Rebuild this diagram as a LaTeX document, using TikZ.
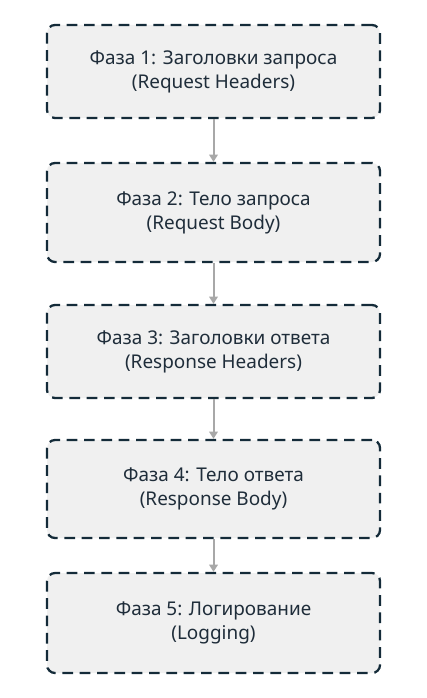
\documentclass[tikz,border=0pt]{standalone}
\usepackage{fontspec}
\setmainfont{Noto Sans}
\usetikzlibrary{arrows.meta}
\definecolor{phasefill}{HTML}{F0F0F0}
\definecolor{phaseline}{HTML}{142B39}
\definecolor{phasetext}{HTML}{1F2D3A}
\definecolor{flowgray}{HTML}{A8A8A8}
\begin{document}
\begin{tikzpicture}[x=0.75pt,y=-0.75pt,
  phase/.style={draw=phaseline, fill=phasefill, line width=1.7pt, dash pattern=on 8pt off 5pt,
    rounded corners=6pt, minimum width=249.75pt, align=center, text=phasetext,
    font=\fontsize{14.2}{18}\selectfont},
  flow/.style={draw=flowgray, line width=1.5pt, -{Triangle[width=6.5pt,length=5.5pt]}}]
\useasboundingbox (0,0) rectangle (426,698);
\node[phase, minimum height=69.75pt] (1) at (213.5,71.5) {Фаза 1: Заголовки запроса\\(Request Headers)};
\node[phase, minimum height=74.25pt] (2) at (213.5,212.5) {Фаза 2: Тело запроса\\(Request Body)};
\node[phase, minimum height=69.75pt] (3) at (213.5,351.5) {Фаза 3: Заголовки ответа\\(Response Headers)};
\node[phase, minimum height=73.5pt] (4) at (213.5,489) {Фаза 4: Тело ответа\\(Response Body)};
\node[phase, minimum height=75pt] (5) at (213.5,623) {Фаза 5: Логирование\\(Logging)};

\path[flow] (1) -- (2);
\path[flow] (2) -- (3);
\path[flow] (3) -- (4);
\path[flow] (4) -- (5);
\end{tikzpicture}
\end{document}
